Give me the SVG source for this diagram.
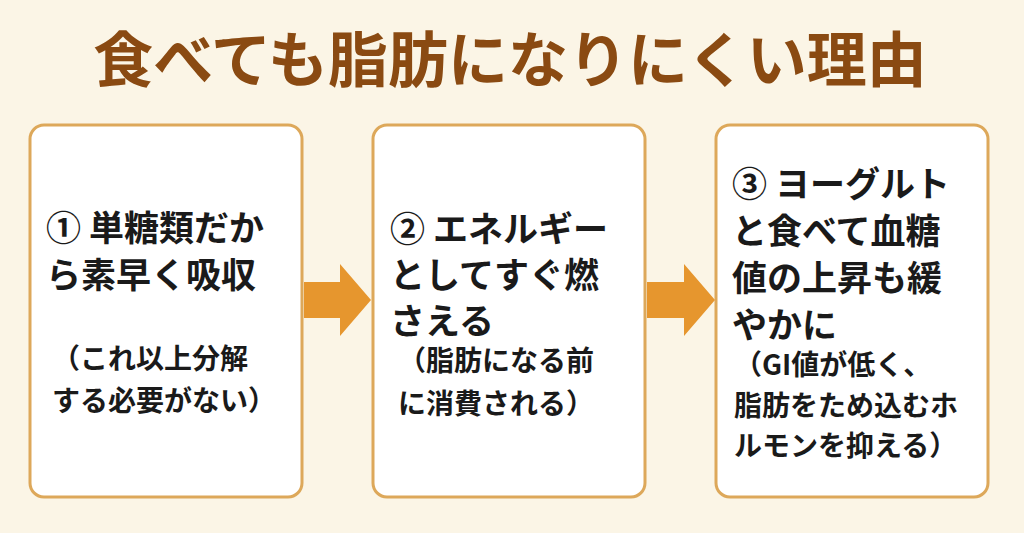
<svg xmlns="http://www.w3.org/2000/svg" width="1024" height="533" viewBox="0 0 1024 533">
<style>
.box{fill:#fff;stroke:#DDA85A;stroke-width:3}
.t{font-family:"Noto Sans CJK JP","Noto Sans",sans-serif;font-weight:bold;fill:#1a1a1a}
.m{font-size:35px}
.s{font-size:28px}
.arr{fill:#E6962E}
</style>
<rect width="1024" height="533" fill="#FBF5E6"/>
<text x="510" y="82" text-anchor="middle" class="t" style="font-size:60px;fill:#8A4A12">食べても脂肪になりにくい理由</text>
<g id="node1">
<rect class="box" x="30" y="125" width="272" height="372" rx="14"/>
<text class="t m" x="46" y="241">① 単糖類だか</text>
<text class="t m" x="46" y="288">ら素早く吸収</text>
<text class="t s" x="52" y="369">（これ以上分解</text>
<text class="t s" x="52" y="411">する必要がない）</text>
</g>
<g id="node2">
<rect class="box" x="373" y="125" width="272" height="372" rx="14"/>
<text class="t m" x="390" y="242">② エネルギー</text>
<text class="t m" x="390" y="288">としてすぐ燃</text>
<text class="t m" x="390" y="334">さえる</text>
<text class="t s" x="398" y="371">（脂肪になる前</text>
<text class="t s" x="398" y="414">に消費される）</text>
</g>
<g id="node3">
<rect class="box" x="716" y="125" width="272" height="372" rx="14"/>
<text class="t m" x="732" y="197">③ ヨーグルト</text>
<text class="t m" x="732" y="244">と食べて血糖</text>
<text class="t m" x="732" y="291">値の上昇も緩</text>
<text class="t m" x="732" y="338">やかに</text>
<text class="t s" x="734" y="375">（GI値が低く、</text>
<text class="t s" x="734" y="416">脂肪をため込むホ</text>
<text class="t s" x="734" y="456">ルモンを抑える）</text>
</g>
<g id="connectors">
<polygon class="arr" points="304,282 340,282 340,264 371,300 340,336 340,318 304,318"/>
<polygon class="arr" points="647,282 684,282 684,264 715,300 684,336 684,318 647,318"/>
</g>
</svg>
